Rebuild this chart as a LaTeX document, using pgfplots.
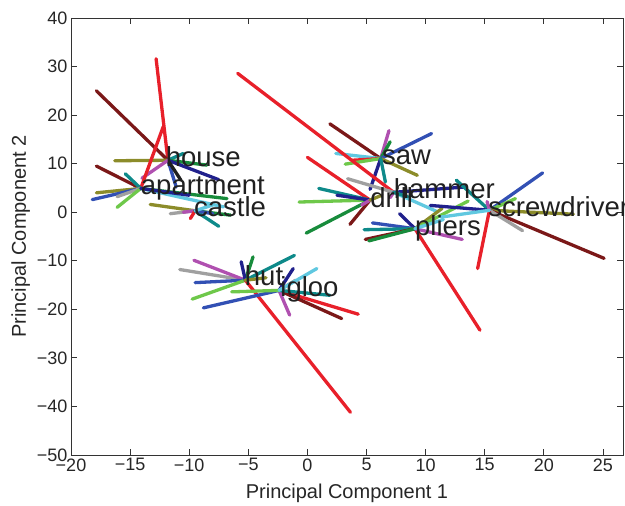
\documentclass[border=0pt]{standalone}
\usepackage{fontspec}
\setmainfont{Liberation Sans}
\usepackage{pgfplots}
\pgfplotsset{compat=1.18}

\definecolor{cred}{RGB}{232,32,42}
\definecolor{cdarkred}{RGB}{123,24,24}
\definecolor{cnavy}{RGB}{32,32,140}
\definecolor{cblue}{RGB}{50,80,180}
\definecolor{ccyan}{RGB}{96,200,224}
\definecolor{cteal}{RGB}{14,138,138}
\definecolor{cgreen}{RGB}{24,140,60}
\definecolor{clgreen}{RGB}{110,200,74}
\definecolor{colive}{RGB}{140,140,42}
\definecolor{cgray}{RGB}{160,160,160}
\definecolor{cmag}{RGB}{176,80,176}
\definecolor{cblack}{RGB}{32,32,32}

\begin{document}
\begin{tikzpicture}
\begin{axis}[
  name=ax,
  scale only axis, width=552pt, height=437pt,
  xmin=-20, xmax=26.7, ymin=-50, ymax=40,
  xtick={-20,-15,...,25}, ytick={-50,-40,...,40},
  xticklabels={−20,−15,−10,−5,0,5,10,15,20,25},
  yticklabels={−50,−40,−30,−20,−10,0,10,20,30,40},
  tick align=inside, major tick length=6pt,
  axis line style={draw=black!80, line width=0.8pt},
  tick style={draw=black!80, line width=0.8pt},
  ticklabel style={font=\fontsize{18}{20}\selectfont, text=black!85},
  xlabel={Principal Component 1}, ylabel={Principal Component 2},
  label style={font=\fontsize{20}{24}\selectfont, text=black!85},
  xlabel style={yshift=-6pt},
  clip=false,
  every axis plot/.append style={line width=3.3pt, line cap=round},
]
% house
\addplot[cred] coordinates {(-11.8,10.7) (-12.8,31.6)};
\addplot[cdarkred] coordinates {(-11.8,10.7) (-17.85,25.0)};
\addplot[colive] coordinates {(-11.8,10.7) (-16.3,10.6)};
\addplot[cteal] coordinates {(-11.8,10.7) (-10.5,12.1)};
\addplot[cgreen] coordinates {(-11.8,10.7) (-8.5,9.7)};
\addplot[cnavy] coordinates {(-11.8,10.7) (-7.5,6.7)};
\addplot[cblue] coordinates {(-11.8,10.7) (-11.1,5.2)};
\addplot[cblack] coordinates {(-11.8,10.7) (-10.7,6.6)};
\addplot[cmag] coordinates {(-11.8,10.7) (-14.0,7.0)};
% apartment
\addplot[cred] coordinates {(-14.1,4.9) (-12.2,17.6)};
\addplot[cdarkred] coordinates {(-14.1,4.9) (-17.85,9.5)};
\addplot[cteal] coordinates {(-14.1,4.9) (-15.4,7.9)};
\addplot[colive] coordinates {(-14.1,4.9) (-17.85,4.0)};
\addplot[cblue] coordinates {(-14.1,4.9) (-18.2,2.6)};
\addplot[cgray] coordinates {(-14.1,4.9) (-16.1,3.2)};
\addplot[clgreen] coordinates {(-14.1,4.9) (-16.1,1.0)};
\addplot[cgreen] coordinates {(-14.1,4.9) (-6.8,2.8)};
\addplot[ccyan] coordinates {(-14.1,4.9) (-7.1,1.1)};
\addplot[cnavy] coordinates {(-14.1,4.9) (-10.0,3.5)};
% castle
\addplot[colive] coordinates {(-9.5,0.3) (-13.3,1.6)};
\addplot[cgray] coordinates {(-9.5,0.3) (-11.6,-0.3)};
\addplot[cmag] coordinates {(-9.5,0.3) (-10.5,0.0)};
\addplot[cred] coordinates {(-9.5,0.3) (-9.9,-1.3)};
\addplot[cteal] coordinates {(-9.5,0.3) (-7.5,-2.9)};
\addplot[cgreen] coordinates {(-9.5,0.3) (-6.5,-0.6)};
\addplot[cblue] coordinates {(-9.5,0.3) (-8.0,-0.3)};
\addplot[ccyan] coordinates {(-9.5,0.3) (-8.0,1.5)};
% saw
\addplot[cdarkred] coordinates {(6.2,11.05) (1.9,18.2)};
\addplot[cmag] coordinates {(6.2,11.05) (6.9,16.8)};
\addplot[cgreen] coordinates {(6.2,11.05) (7.0,14.5)};
\addplot[cblue] coordinates {(6.2,11.05) (10.5,16.2)};
\addplot[ccyan] coordinates {(6.2,11.05) (2.4,12.1)};
\addplot[cred] coordinates {(6.2,11.05) (3.8,10.7)};
\addplot[clgreen] coordinates {(6.2,11.05) (3.2,9.9)};
\addplot[colive] coordinates {(6.2,11.05) (9.3,7.6)};
\addplot[cnavy] coordinates {(6.2,11.05) (5.3,4.7)};
\addplot[cteal] coordinates {(6.2,11.05) (6.6,6.2)};
% hammer
\addplot[cred] coordinates {(7.3,4.1) (-5.9,28.6)};
\addplot[cgray] coordinates {(7.3,4.1) (3.4,6.9)};
\addplot[ccyan] coordinates {(7.3,4.1) (11.0,0.1)};
\addplot[cnavy] coordinates {(7.3,4.1) (13.4,5.2)};
\addplot[cmag] coordinates {(7.3,4.1) (7.0,3.0)};
\addplot[cteal] coordinates {(7.3,4.1) (8.5,3.2)};
% drill
\addplot[cred] coordinates {(5.3,2.5) (0.0,11.3)};
\addplot[cteal] coordinates {(5.3,2.5) (0.96,4.9)};
\addplot[clgreen] coordinates {(5.3,2.5) (-0.7,2.1)};
\addplot[cgreen] coordinates {(5.3,2.5) (-0.1,-4.3)};
\addplot[cdarkred] coordinates {(5.3,2.5) (3.6,-2.5)};
\addplot[cnavy] coordinates {(5.3,2.5) (2.5,3.5)};
\addplot[cmag] coordinates {(5.3,2.5) (4.6,1.5)};
\addplot[colive] coordinates {(5.3,2.5) (6.3,3.5)};
% pliers
\addplot[cred] coordinates {(9.1,-3.4) (14.6,-24.3)};
\addplot[colive] coordinates {(9.1,-3.4) (11.4,0.8)};
\addplot[clgreen] coordinates {(9.1,-3.4) (13.6,2.3)};
\addplot[cnavy] coordinates {(9.1,-3.4) (7.8,-0.3)};
\addplot[cblue] coordinates {(9.1,-3.4) (5.5,-2.2)};
\addplot[cteal] coordinates {(9.1,-3.4) (4.8,-3.6)};
\addplot[cdarkred] coordinates {(9.1,-3.4) (4.9,-5.6)};
\addplot[cgreen] coordinates {(9.1,-3.4) (5.2,-5.9)};
\addplot[cmag] coordinates {(9.1,-3.4) (13.1,-5.6)};
\addplot[ccyan] coordinates {(9.1,-3.4) (11.5,-1.5)};
% screwdriver
\addplot[cblue] coordinates {(15.4,0.4) (19.9,8.1)};
\addplot[clgreen] coordinates {(15.4,0.4) (17.6,2.8)};
\addplot[cteal] coordinates {(15.4,0.4) (12.6,6.6)};
\addplot[colive] coordinates {(15.4,0.4) (22.5,-0.4)};
\addplot[cdarkred] coordinates {(15.4,0.4) (25.1,-9.5)};
\addplot[cgray] coordinates {(15.4,0.4) (18.2,-3.8)};
\addplot[cred] coordinates {(15.4,0.4) (14.4,-11.6)};
\addplot[cnavy] coordinates {(15.4,0.4) (10.4,1.4)};
\addplot[cmag] coordinates {(15.4,0.4) (15.2,2.2)};
\addplot[ccyan] coordinates {(15.4,0.4) (11.3,-1.0)};
% hut
\addplot[cgray] coordinates {(-5.25,-14.0) (-10.8,-11.8)};
\addplot[cmag] coordinates {(-5.25,-14.0) (-9.6,-9.9)};
\addplot[cblue] coordinates {(-5.25,-14.0) (-9.5,-14.5)};
\addplot[clgreen] coordinates {(-5.25,-14.0) (-9.75,-17.9)};
\addplot[cgreen] coordinates {(-5.25,-14.0) (-4.6,-9.2)};
\addplot[cnavy] coordinates {(-5.25,-14.0) (-5.6,-10.2)};
\addplot[cteal] coordinates {(-5.25,-14.0) (-1.1,-8.9)};
\addplot[cred] coordinates {(-5.25,-14.0) (3.64,-41.2)};
\addplot[colive] coordinates {(-5.25,-14.0) (-3.5,-13.5)};
% igloo
\addplot[cred] coordinates {(-2.4,-16.1) (4.3,-21.0)};
\addplot[cdarkred] coordinates {(-2.4,-16.1) (2.9,-21.9)};
\addplot[cmag] coordinates {(-2.4,-16.1) (-1.5,-21.2)};
\addplot[cnavy] coordinates {(-2.4,-16.1) (-1.2,-11.6)};
\addplot[cgray] coordinates {(-2.4,-16.1) (-1.0,-14.0)};
\addplot[cteal] coordinates {(-2.4,-16.1) (1.9,-17.1)};
\addplot[cblue] coordinates {(-2.4,-16.1) (-8.8,-19.7)};
\addplot[clgreen] coordinates {(-2.4,-16.1) (-6.4,-16.4)};
\addplot[ccyan] coordinates {(-2.4,-16.1) (0.8,-11.6)};
% word labels
\begin{scope}[every node/.style={anchor=mid west, inner sep=0pt, text=cblack, font=\fontsize{27.5}{30}\selectfont}]
\node at (axis cs:-12.0,9.9) {house};
\node at (axis cs:-14.1,4.1) {apartment};
\node at (axis cs:-9.6,-0.4) {castle};
\node at (axis cs:6.3,10.4) {saw};
\node at (axis cs:7.3,3.4) {hammer};
\node at (axis cs:5.3,1.6) {drill};
\node at (axis cs:9.1,-4.2) {pliers};
\node at (axis cs:15.3,-0.3) {screwdriver};
\node at (axis cs:-5.3,-14.6) {hut};
\node at (axis cs:-2.3,-16.8) {igloo};
\end{scope}
\end{axis}
\pgfresetboundingbox
\path[use as bounding box] ([shift={(-71pt,-50pt)}]ax.south west) rectangle ([shift={(2pt,18pt)}]ax.north east);
\end{tikzpicture}
\end{document}
